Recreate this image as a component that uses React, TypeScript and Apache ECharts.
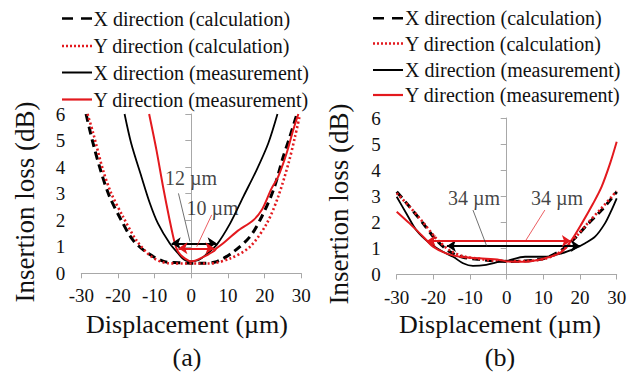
import React, { useEffect, useRef } from "react";
import * as echarts from "echarts";

const FONT = "Liberation Serif";
const RED = "#e3191e";
const INK = "#111";

const legendNames = [
  "X direction (calculation)",
  "Y direction (calculation)",
  "X direction (measurement)",
  "Y direction (measurement)",
];

// ---------- Panel (a) ----------
const aXCalcX = [-28.7, -26.8, -24.5, -22.3, -19.1, -15.9, -11.8, -7.3, -3.6, 0, 3, 6.9, 11.5, 16, 19.2, 22.4, 25.1, 26.9, 28.7];
const aXCalcY = [6.0, 4.9, 3.77, 2.89, 2.0, 1.25, 0.75, 0.44, 0.4, 0.38, 0.38, 0.44, 0.81, 1.38, 2.13, 3.14, 4.4, 5.15, 5.95];

const aYCalcX = [-28.3, -26.8, -24.1, -21.8, -18.6, -15, -10.9, -6.4, -2, 2, 5.1, 10.6, 16, 20.6, 23.7, 26.5, 28.3, 29.6];
const aYCalcY = [6, 5.3, 3.9, 3.0, 2.13, 1.25, 0.63, 0.38, 0.37, 0.37, 0.37, 0.56, 1.0, 1.88, 2.89, 4.14, 5.15, 5.95];

const aXMeasX = [-18.2, -16.4, -13.6, -11.3, -9.1, -5.9, -3.6, -1.8, 0, 2, 4, 6.9, 10.6, 14.2, 17.8, 21, 23.5];
const aXMeasY = [6.0, 4.9, 3.64, 2.64, 1.88, 1.13, 0.75, 0.5, 0.45, 0.5, 0.7, 1.07, 1.88, 2.89, 3.89, 4.9, 6.0];

const aYMeasX = [-11.5, -9.5, -7.7, -5.9, -4.5, -3.6, -1.8, 0, 3.3, 6, 6.9, 8.7, 12.4, 16.9, 19.2, 21.9, 23.7, 26, 27.8, 29.2];
const aYMeasY = [6, 4.64, 3.26, 2.0, 1.13, 0.81, 0.56, 0.45, 0.62, 0.82, 0.94, 1.13, 1.57, 2.0, 2.38, 3.2, 3.64, 4.52, 5.4, 6];

const aArrowBlack = [[-5.35, 1.13], [6.9, 1.13]];
const aArrowRed = [[-3.5, 0.94], [6.3, 0.94]];
const aLeaderBlack = [[-3.5, 3.01], [-0.35, 1.19]];
const aLeaderRed = [[5.56, 2.2], [1.47, 1.0]];
const aLabelBlack = { pos: [-0.1, 3.6], text: "12 µm" };
const aLabelRed = { pos: [5.8, 2.45], text: "10 µm" };

// ---------- Panel (b) ----------
const bXCalcX = [-30, -26.5, -22.8, -19.2, -15.5, -11.9, -7.4, -3.8, 0, 5, 10.4, 15, 18.6, 22.3, 25.9, 28.6, 30];
const bXCalcY = [3.17, 2.6, 1.96, 1.32, 0.87, 0.66, 0.58, 0.53, 0.5, 0.52, 0.62, 0.94, 1.39, 1.96, 2.47, 2.92, 3.17];

const bYCalcX = [-30, -26.5, -22.8, -19.2, -15.5, -11.9, -7.4, -3.8, 0, 5, 10.4, 15, 18.6, 22.3, 25.9, 28.6, 30];
const bYCalcY = [3.12, 2.6, 2.0, 1.38, 0.92, 0.7, 0.6, 0.53, 0.52, 0.52, 0.6, 0.9, 1.4, 2.0, 2.55, 2.98, 3.2];

const bXMeasX = [-30, -27.4, -24.7, -21, -17.4, -14.6, -11.9, -9.2, -5.6, -1.9, 0, 5, 10.4, 15, 18.6, 21.4, 24.1, 26.8, 28.6, 30];
const bXMeasY = [2.98, 2.35, 1.71, 1.2, 0.87, 0.68, 0.43, 0.33, 0.37, 0.49, 0.52, 0.68, 0.68, 0.81, 1.0, 1.2, 1.45, 1.96, 2.47, 2.92];

const bYMeasX = [-30, -26.5, -22.8, -20.1, -16.5, -12.8, -7.4, -1.9, 0, 5, 10.4, 15, 17.7, 20.5, 23.6, 25.9, 28.2, 30];
const bYMeasY = [2.41, 1.96, 1.45, 1.07, 0.81, 0.68, 0.62, 0.56, 0.5, 0.49, 0.62, 0.87, 1.32, 1.96, 2.73, 3.37, 4.26, 5.09];

const bArrowBlack = [[-16.3, 1.09], [20, 1.09]];
const bArrowRed = [[-21.8, 1.28], [17.5, 1.28]];
const bLeaderBlack = [[-9.2, 2.47], [-5.4, 1.07]];
const bLeaderRed = [[10.4, 2.47], [5, 1.26]];
const bLabelBlack = { pos: [-8.9, 2.93], text: "34 µm" };
const bLabelRed = { pos: [13.7, 2.93], text: "34 µm" };

const pairs = (xs: number[], ys: number[]) => xs.map((x, i) => [x, ys[i]]);

const seriesStyles = [
  { color: "#000", width: 3, type: [8, 5] as any },
  { color: RED, width: 2.6, type: [2, 2.5] as any },
  { color: "#000", width: 1.8, type: "solid" as any },
  { color: RED, width: 2, type: "solid" as any },
];

function panelSeries(idx: number, data: number[][][], arrows: any, leaders: any, labels: any[]) {
  const out: any[] = [];
  data.forEach((d, i) => {
    out.push({
      type: "line",
      name: legendNames[i],
      xAxisIndex: idx,
      yAxisIndex: idx,
      data: d,
      showSymbol: false,
      symbol: "none",
      smooth: 0.3,
      lineStyle: { ...seriesStyles[i], cap: "butt" },
      z: 2 + i,
    });
  });
  out.push({
    type: "lines",
    coordinateSystem: "cartesian2d",
    xAxisIndex: idx,
    yAxisIndex: idx,
    symbol: ["arrow", "arrow"],
    symbolSize: 9,
    z: 10,
    data: [
      { coords: arrows.black, lineStyle: { color: "#000", width: 1.8, opacity: 1 } },
      { coords: arrows.red, lineStyle: { color: RED, width: 1.8, opacity: 1 } },
    ],
  });
  out.push({
    type: "lines",
    coordinateSystem: "cartesian2d",
    xAxisIndex: idx,
    yAxisIndex: idx,
    symbol: "none",
    z: 10,
    data: [
      { coords: leaders.black, lineStyle: { color: "#333", width: 0.7, opacity: 1 } },
      { coords: leaders.red, lineStyle: { color: RED, width: 0.7, opacity: 1 } },
    ],
  });
  out.push({
    type: "scatter",
    xAxisIndex: idx,
    yAxisIndex: idx,
    symbolSize: 1,
    itemStyle: { color: "rgba(0,0,0,0)" },
    z: 11,
    label: {
      show: true,
      position: "inside",
      formatter: "{b}",
      fontSize: 20,
      fontFamily: FONT,
      color: INK,
    },
    data: labels.map((l) => ({ value: l.pos, name: l.text })),
  });
  return out;
}

const axisColor = "#a8a8a8";

function xAxis(idx: number) {
  return {
    type: "value",
    gridIndex: idx,
    min: -30,
    max: 30,
    interval: 10,
    axisLine: { show: true, lineStyle: { color: axisColor, width: 1 } },
    axisTick: { show: true, length: 5, lineStyle: { color: axisColor } },
    axisLabel: { fontSize: 19, fontFamily: FONT, color: INK, margin: 13 },
    splitLine: { show: false },
  };
}
function yAxis(idx: number) {
  return {
    type: "value",
    gridIndex: idx,
    min: 0,
    max: 6,
    interval: 1,
    axisLine: { show: true, lineStyle: { color: axisColor, width: 1 } },
    axisTick: { show: true, length: 6, lineStyle: { color: axisColor } },
    axisLabel: { fontSize: 19, fontFamily: FONT, color: INK, margin: 16 },
    splitLine: { show: false },
  };
}

function text(x: number, y: number, t: string, size: number, rot = 0, align = "center") {
  return {
    type: "text",
    x,
    y,
    rotation: rot,
    style: {
      text: t,
      font: `${size}px ${FONT}`,
      fontSize: size,
      fontFamily: FONT,
      fill: INK,
      textAlign: align,
      textVerticalAlign: "middle",
      align,
      verticalAlign: "middle",
    },
  };
}

function legend(x0: number, rows: number[], textX: number) {
  const els: any[] = [];
  const st = [
    { stroke: "#000", lineWidth: 2.6, lineDash: [11, 8] },
    { stroke: RED, lineWidth: 2.4, lineDash: [2, 2] },
    { stroke: "#000", lineWidth: 2 },
    { stroke: RED, lineWidth: 2.2 },
  ];
  rows.forEach((y, i) => {
    els.push({ type: "line", shape: { x1: x0, y1: y, x2: x0 + 30, y2: y }, style: st[i] });
    els.push(text(textX, y, legendNames[i], 20, 0, "left"));
  });
  return els;
}

export default function App() {
  const ref = useRef<HTMLDivElement>(null);
  useEffect(() => {
    if (!ref.current) return;
    const chart = echarts.init(ref.current, undefined, { renderer: "svg" });
    const option: any = {
      animation: false,
      backgroundColor: "#fff",
      textStyle: { fontFamily: FONT },
      grid: [
        { left: 81.3, top: 114, width: 220, height: 159.3 },
        { left: 396.7, top: 118, width: 220, height: 156.5 },
      ],
      xAxis: [xAxis(0), xAxis(1)],
      yAxis: [yAxis(0), yAxis(1)],
      series: [
        ...panelSeries(
          0,
          [pairs(aXCalcX, aXCalcY), pairs(aYCalcX, aYCalcY), pairs(aXMeasX, aXMeasY), pairs(aYMeasX, aYMeasY)],
          { black: aArrowBlack, red: aArrowRed },
          { black: aLeaderBlack, red: aLeaderRed },
          [aLabelBlack, aLabelRed]
        ),
        ...panelSeries(
          1,
          [pairs(bXCalcX, bXCalcY), pairs(bYCalcX, bYCalcY), pairs(bXMeasX, bXMeasY), pairs(bYMeasX, bYMeasY)],
          { black: bArrowBlack, red: bArrowRed },
          { black: bLeaderBlack, red: bLeaderRed },
          [bLabelBlack, bLabelRed]
        ),
      ],
      graphic: [
        ...legend(62, [18.5, 46, 72.5, 99.5], 93.5),
        ...legend(373, [18.3, 43.5, 70, 95], 405),
        text(25, 202, "Insertion loss (dB)", 27, Math.PI / 2),
        text(339, 204, "Insertion loss (dB)", 27, Math.PI / 2),
        text(187, 324, "Displacement (µm)", 26),
        text(500, 324, "Displacement (µm)", 26),
        text(187, 357, "(a)", 26),
        text(500, 357, "(b)", 26),
      ],
    };
    chart.setOption(option);
    return () => chart.dispose();
  }, []);
  return (
    <div
      ref={ref}
      style={{ position: "fixed", left: 0, top: 0, width: 640, height: 378, background: "#fff" }}
    />
  );
}
